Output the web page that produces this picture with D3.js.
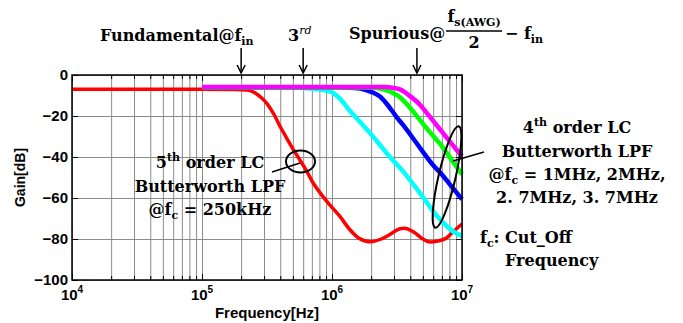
<!DOCTYPE html>
<html>
<head>
<meta charset="utf-8">
<title>LC Butterworth LPF gain</title>
<script src="https://d3js.org/d3.v7.min.js"></script>
<style>
  body { margin: 0; background: #fff; }
  svg text { font-family: "Liberation Sans", Arial, sans-serif; font-weight: bold; }
  svg text.anno { font-family: "DejaVu Serif", serif; font-weight: bold; }
</style>
</head>
<body>
<div id="chart"></div>
<script>
// values: frequency [Hz], gain [dB]
const redFreq = [1e4, 1e5, 1.8e5, 2.2e5, 2.34e5, 2.6e5, 2.85e5, 3.15e5, 3.6e5, 3.98e5, 4.5e5, 5e5, 5.67e5, 6.4e5, 7.18e5, 8.1e5, 9.66e5, 1.15e6, 1.375e6, 1.6e6, 1.96e6, 2.4e6, 2.79e6, 3.33e6, 3.6e6, 4.22e6, 5e6, 5.67e6, 6.5e6, 7.6e6, 8.57e6, 1e7];
const redGain = [-7, -7, -7.1, -7.3, -7.6, -9, -11, -13.8, -19.5, -25, -31, -36, -41.5, -47, -52.8, -57.5, -63.5, -69, -75.5, -79.5, -81.3, -80, -77.8, -75, -74.8, -76.5, -80, -81.5, -81, -79.5, -76.4, -72.7];

const cyanFreq = [1e5, 4e5, 6e5, 7.5e5, 9.66e5, 1.15e6, 1.375e6, 1.65e6, 1.96e6, 2.4e6, 2.79e6, 3.52e6, 4.75e6, 6.42e6, 7.5e6, 8.53e6, 1e7];
const cyanGain = [-6, -6, -6.3, -6.8, -8, -11.5, -17.6, -23, -28.3, -35, -40, -47, -57.6, -68.8, -73.3, -76.3, -78.5];

const blueFreq = [1e5, 1e6, 1.5e6, 1.8e6, 2.1e6, 2.34e6, 2.63e6, 3.14e6, 3.53e6, 4.75e6, 6e6, 7e6, 8.09e6, 1e7];
const blueGain = [-6, -6, -6.4, -7.2, -8.8, -10.5, -14, -20.5, -24.5, -35.5, -44, -48.5, -53.5, -60.6];

const greenFreq = [1e5, 2e6, 2.34e6, 2.63e6, 3e6, 3.33e6, 3.8e6, 4.75e6, 5.6e6, 6.76e6, 8.57e6, 1e7];
const greenGain = [-6, -6.1, -6.6, -7.5, -9, -10.8, -14.5, -22, -27.5, -33.5, -42.5, -48.5];

const magentaFreq = [1e5, 2.5e6, 3e6, 3.33e6, 3.98e6, 4.75e6, 5.35e6, 6.2e6, 7.18e6, 8.2e6, 9.1e6, 1e7];
const magentaGain = [-5.8, -5.9, -6.3, -7, -10.3, -14.5, -18.5, -23.5, -28.5, -33, -36.6, -39.5];

const decades = [1e4, 1e5, 1e6, 1e7];
const decadeExp = ["4", "5", "6", "7"];
const gainTicks = [-100, -80, -60, -40, -20, 0];

// arrows on top: fundamental, 3rd harmonic, spurious
const arrowFreq = [2e5, 6e5, 4.5e6];

const series = [
  { f: redFreq, g: redGain, color: "#ff0000", w: 3.5 },
  { f: cyanFreq, g: cyanGain, color: "#00ffff", w: 4.5 },
  { f: blueFreq, g: blueGain, color: "#0000ff", w: 4.5 },
  { f: greenFreq, g: greenGain, color: "#00ff00", w: 4.5 },
  { f: magentaFreq, g: magentaGain, color: "#ff00ff", w: 4.5 }
];

const W = 683, H = 323;
const L = 72, R = 462, T = 75, B = 280;

const svg = d3.select("#chart").append("svg")
  .attr("width", W).attr("height", H);

const x = d3.scaleLog().domain([1e4, 1e7]).range([L, R]);
const y = d3.scaleLinear().domain([-100, 0]).range([B, T]);

// grid
const xgrid = svg.append("g").attr("transform", `translate(0,${B})`)
  .call(d3.axisBottom(x).tickValues(x.ticks()).tickSize(-(B - T)).tickFormat(""));
const ygrid = svg.append("g").attr("transform", `translate(${L},0)`)
  .call(d3.axisLeft(y).tickValues(gainTicks).tickSize(-(R - L)).tickFormat(""));
[xgrid, ygrid].forEach(g => {
  g.select(".domain").remove();
  g.selectAll("line").attr("stroke", "#8c8c8c").attr("stroke-width", 1);
});

// inner tick marks
const minorOnly = x.ticks().filter(v => decades.indexOf(v) < 0);
svg.append("g").attr("transform", `translate(0,${B})`)
  .call(d3.axisBottom(x).tickValues(minorOnly).tickSize(-4).tickFormat(""));
svg.append("g").attr("transform", `translate(0,${T})`)
  .call(d3.axisTop(x).tickValues(minorOnly).tickSize(-4).tickFormat(""));
svg.append("g").attr("transform", `translate(0,${B})`)
  .call(d3.axisBottom(x).tickValues(decades).tickSize(-6).tickFormat(""));
svg.append("g").attr("transform", `translate(0,${T})`)
  .call(d3.axisTop(x).tickValues(decades).tickSize(-6).tickFormat(""));
svg.append("g").attr("transform", `translate(${R},0)`)
  .call(d3.axisRight(y).tickValues(gainTicks).tickSize(-6).tickFormat(""));
svg.selectAll("g").selectAll(".domain").remove();

// curves
const line = d3.line()
  .x(d => x(d[0]))
  .y(d => y(d[1]))
  .curve(d3.curveMonotoneX);

series.forEach(s => {
  svg.append("path")
    .datum(s.f.map((v, i) => [v, s.g[i]]))
    .attr("d", line)
    .attr("fill", "none")
    .attr("stroke", s.color)
    .attr("stroke-width", s.w)
    .attr("stroke-linejoin", "round");
});

// frame
svg.append("rect")
  .attr("x", L).attr("y", T).attr("width", R - L).attr("height", B - T)
  .attr("fill", "none").attr("stroke", "#000").attr("stroke-width", 1.5);

// y tick labels
const yax = svg.append("g").attr("transform", `translate(${L},0)`)
  .call(d3.axisLeft(y).tickValues(gainTicks).tickSize(6).tickPadding(-2)
    .tickFormat(d => d === 0 ? "0" : "\u2212" + Math.abs(d)));
yax.select(".domain").remove();
yax.selectAll("line").attr("x2", 6);
yax.selectAll("text").attr("font-size", 15).attr("fill", "#000")
  .attr("font-family", "Liberation Sans, Arial, sans-serif").attr("font-weight", "bold");

// x tick labels 10^n
const xl = svg.append("g");
decades.forEach((d, i) => {
  const t = xl.append("text")
    .attr("x", x(d)).attr("y", 300)
    .attr("text-anchor", "middle")
    .attr("font-size", 15);
  t.append("tspan").text("10");
  t.append("tspan").attr("dy", -7).attr("font-size", 10).text(decadeExp[i]);
});

svg.append("text")
  .attr("x", (L + R) / 2).attr("y", 318)
  .attr("text-anchor", "middle").attr("font-size", 15)
  .text("Frequency[Hz]");

svg.append("text")
  .attr("transform", `translate(25,${(T + B) / 2}) rotate(-90)`)
  .attr("text-anchor", "middle").attr("font-size", 14)
  .text("Gain[dB]");

// rich text helper: parts = [text, "sub"|"sup"|null, italic]
function rich(x0, y0, parts, anchor, size) {
  const t = svg.append("text").attr("class", "anno")
    .attr("x", x0).attr("y", y0)
    .attr("text-anchor", anchor)
    .attr("font-size", size);
  let shift = 0;
  parts.forEach(p => {
    const s = t.append("tspan").text(p[0]);
    const want = p[1] === "sub" ? 4 : p[1] === "sup" ? -7 : 0;
    if (want !== shift) s.attr("dy", want - shift);
    shift = want;
    if (p[1]) s.attr("font-size", Math.round(size * 0.68));
    if (p[2]) s.attr("font-style", "italic").attr("font-weight", "normal");
  });
  return t;
}

// top labels
rich(100, 41, [["Fundamental@f"], ["in", "sub"]], "start", 16);
rich(288, 41, [["3"], ["rd", "sup", true]], "start", 16);
rich(349, 39, [["Spurious@"]], "start", 16);
rich(474, 22, [["f"], ["s(AWG)", "sub"]], "middle", 16);
svg.append("line").attr("x1", 446).attr("x2", 502).attr("y1", 31).attr("y2", 31)
  .attr("stroke", "#000").attr("stroke-width", 1.5);
rich(474, 48, [["2"]], "middle", 16);
rich(505, 39, [["\u2212 f"], ["in", "sub"]], "start", 16);

// arrows
arrowFreq.forEach(f => {
  const ax = x(f);
  svg.append("line").attr("x1", ax).attr("x2", ax).attr("y1", 48).attr("y2", 73)
    .attr("stroke", "#000").attr("stroke-width", 1.5);
  svg.append("path")
    .attr("d", `M${ax - 4},${65} L${ax},${73} L${ax + 4},${65}`)
    .attr("fill", "none").attr("stroke", "#000").attr("stroke-width", 1.5);
});

// 5th order annotation
rich(210, 168, [["5"], ["th", "sup"], [" order LC"]], "middle", 16);
rich(210, 192, [["Butterworth LPF"]], "middle", 16);
rich(210, 215, [["@f"], ["c", "sub"], [" = 250kHz"]], "middle", 16);
svg.append("ellipse").attr("cx", 300.5).attr("cy", 161.5).attr("rx", 14.5).attr("ry", 11)
  .attr("fill", "none").attr("stroke", "#000").attr("stroke-width", 2);
svg.append("line").attr("x1", 272).attr("y1", 172).attr("x2", 300).attr("y2", 163)
  .attr("stroke", "#000").attr("stroke-width", 1.5);

// 4th order annotation
svg.append("ellipse").attr("cx", 447).attr("cy", 177).attr("rx", 8.5).attr("ry", 52)
  .attr("transform", "rotate(13,447,177)")
  .attr("fill", "none").attr("stroke", "#000").attr("stroke-width", 2);
svg.append("line").attr("x1", 453).attr("y1", 161).attr("x2", 484).attr("y2", 152)
  .attr("stroke", "#000").attr("stroke-width", 1.5);
rich(577, 133, [["4"], ["th", "sup"], [" order LC"]], "middle", 16);
rich(577, 157, [["Butterworth LPF"]], "middle", 16);
rich(577, 180, [["@f"], ["c", "sub"], [" = 1MHz, 2MHz,"]], "middle", 16);
rich(577, 203, [["2. 7MHz, 3. 7MHz"]], "middle", 16);

rich(480, 243, [["f"], ["c", "sub"], [": Cut_Off"]], "start", 16);
rich(505, 266, [["Frequency"]], "start", 16);
</script>
</body>
</html>
